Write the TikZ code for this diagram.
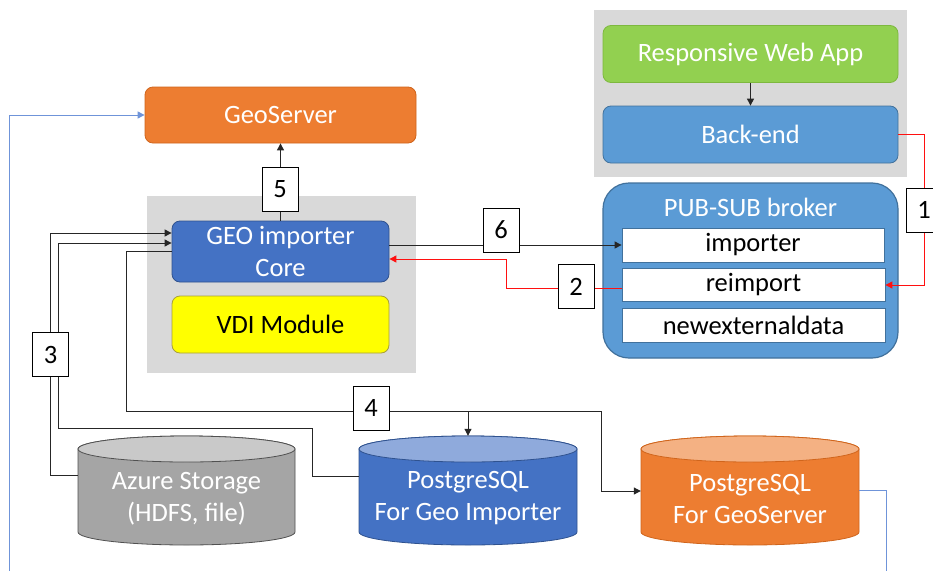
\documentclass[tikz,border=0pt]{standalone}
\usepackage{fontspec}
\setmainfont{Carlito}
\usetikzlibrary{arrows.meta,calc}
\definecolor{cOrange}{HTML}{ED7D31}
\definecolor{cOrangeL}{HTML}{F4B183}
\definecolor{cOrangeD}{HTML}{D0651C}
\definecolor{cBlue}{HTML}{4472C4}
\definecolor{cBlueL}{HTML}{8FAADC}
\definecolor{cBlueD}{HTML}{2F528F}
\definecolor{cSky}{HTML}{5B9BD5}
\definecolor{cSkyD}{HTML}{41719C}
\definecolor{cGreen}{HTML}{92D050}
\definecolor{cGreenD}{HTML}{7DB83E}
\definecolor{cGray}{HTML}{A5A5A5}
\definecolor{cGrayL}{HTML}{C9C9C9}
\definecolor{cGrayD}{HTML}{505050}
\definecolor{cPanel}{HTML}{D9D9D9}
\definecolor{cYellow}{HTML}{FFFF00}
\definecolor{cYellowD}{HTML}{A89F3A}
\definecolor{cLink}{HTML}{6F94D9}
\definecolor{cRed}{HTML}{FF1010}
\tikzset{
  panel/.style={fill=cPanel, draw=none, inner sep=0pt},
  comp/.style={rounded corners=8pt, line width=0.8pt, text=white, inner sep=0pt, align=center},
  topic/.style={fill=white, draw=cSkyD, line width=0.8pt, inner sep=0pt, text=black},
  tag/.style={fill=white, draw=black, line width=0.9pt, minimum width=36pt, minimum height=44pt, inner sep=0pt, text=black},
  link/.style={draw=black!85, line width=1pt},
  arr/.style={link, -{Triangle[length=7pt,width=7pt]}},
  rarr/.style={draw=cRed, line width=1pt, -{Triangle[length=7pt,width=7pt]}},
  barr/.style={draw=cLink, line width=1pt, -{Triangle[length=7pt,width=7pt]}},
  bline/.style={draw=cLink, line width=1pt},
  dbshape/.style={draw=none, inner sep=0pt, minimum width=217pt, minimum height=109pt},
  dbtext/.style={text=white, align=center, inner sep=0pt},
}
% cylinder: L, R, T, B, rx, body colour, top colour, border colour
\newcommand\dbcylinder[8]{%
  \draw[line width=0.8pt, draw=#8, fill=#6]
    (#1,{#3+13}) -- (#1,{#4-13})
    arc[start angle=180, end angle=360, x radius=#5pt, y radius=13pt]
    -- (#2,{#3+13})
    arc[start angle=0, end angle=180, x radius=#5pt, y radius=13pt] -- cycle;
  \draw[line width=0.8pt, draw=#8, fill=#7] ({(#1+#2)/2},{#3+13}) ellipse[x radius=#5pt, y radius=13pt];
}
\begin{document}
\begin{tikzpicture}[x=1pt, y=-1pt, font=\fontsize{26.5pt}{32pt}\selectfont]
\useasboundingbox (0,0) rectangle (933,570);
\fill[white] (0,0) rectangle (933,570);

% panels
\node[panel, minimum width=313pt, minimum height=167pt] (toppanel) at (750.5,93.5) {};
\node[panel, minimum width=269pt, minimum height=177pt] (midpanel) at (281.5,284.5) {};

% top right components
\node[comp, fill=cGreen, draw=cGreenD, minimum width=295pt, minimum height=57pt] (rwa) at (750.5,54) {Responsive Web App};
\node[comp, fill=cSky, draw=cSkyD, minimum width=295pt, minimum height=57pt] (backend) at (750.5,134.5) {Back-end};

% broker
\node[comp, rounded corners=26pt, fill=cSky, draw=cSkyD, line width=1.2pt, minimum width=295pt, minimum height=175pt] (broker) at (750.5,270.5) {};
\node[text=white, inner sep=0pt] (brokertitle) at (750.5,207) {PUB-SUB broker};
\node[topic, minimum width=262pt, minimum height=34pt] (importer) at (753,245) {importer};
\node[topic, minimum width=263pt, minimum height=33pt] (reimport) at (753.5,285) {reimport};
\node[topic, minimum width=263pt, minimum height=34pt] (newext) at (753.5,325) {newexternaldata};

% geoserver and importer
\node[comp, fill=cOrange, draw=cOrangeD, minimum width=271pt, minimum height=56pt] (geoserver) at (280.5,115) {GeoServer};
\node[comp, fill=cBlue, draw=cBlueD, minimum width=217pt, minimum height=61pt] (core) at (280.5,251.5) {GEO importer\\Core};
\node[comp, fill=cYellow, draw=cYellowD, text=black, minimum width=217pt, minimum height=57pt] (vdi) at (280.5,324.5) {VDI Module};

% databases
\dbcylinder{78}{295}{436}{545}{108.5}{cGray}{cGrayL}{cGrayD}
\node[dbshape] (azure) at (186.5,490.5) {};
\node[dbtext] (azuretext) at (186.5,498.5) {Azure Storage\\(HDFS, file)};

\dbcylinder{359}{577}{436}{545}{109}{cBlue}{cBlueL}{cBlueD}
\node[dbshape, minimum width=218pt] (pgi) at (468,490.5) {};
\node[dbtext] (pgitext) at (468,498.5) {PostgreSQL\\For Geo Importer};

\dbcylinder{641}{859}{436}{545}{109}{cOrange}{cOrangeL}{cOrangeD}
\node[dbshape, minimum width=218pt] (pgs) at (750,490.5) {};
\node[dbtext] (pgstext) at (750,498.5) {PostgreSQL\\For GeoServer};

% coordinates for bends
\coordinate (a1) at (50,475);
\coordinate (a2) at (50,233);
\coordinate (b1) at (312,476);
\coordinate (b2) at (312,428);
\coordinate (b3) at (58,428);
\coordinate (b4) at (58,243);
\coordinate (c1) at (126,251.5);
\coordinate (c2) at (126,411);
\coordinate (c3) at (601,411);
\coordinate (c4) at (601,491);
\coordinate (c5) at (468,411);
\coordinate (g1) at (9,575);
\coordinate (g2) at (9,115);
\coordinate (h1) at (886,490);
\coordinate (h2) at (886,575);
\coordinate (r1) at (924,134.5);
\coordinate (s0) at (622,288);
\coordinate (s1) at (506,288);
\coordinate (s2) at (506,259);

% connectors
\draw[arr] (rwa) -- (backend);
\draw[rarr] (backend.east) -- (r1) |- (reimport.east);
\draw[rarr] (reimport.west |- s0) -- (s1) -- (s2) -- (core.east |- s2);
\draw[arr] (core.east |- importer) -- (importer.west);
\draw[arr] (core.north) -- (geoserver.south);
\draw[arr] (azure.west |- a1) -- (a1) -- (a2) -- (core.west |- a2);
\draw[arr] (pgi.west |- b1) -- (b1) -- (b2) -- (b3) -- (b4) -- (core.west |- b4);
\draw[arr] (core.west) -- (c1) -- (c2) -- (c3) -- (c4) -- (pgs.west |- c4);
\draw[arr] (c5) -- (pgi.north);
\draw[barr] (g1) -- (g2) -- (geoserver.west);
\draw[bline] (pgs.east |- h1) -- (h1) -- (h2);

% step tags
\node[tag] (t1) at (924,210) {1};
\node[tag] (t2) at (576,286.5) {2};
\node[tag] (t3) at (50.5,354.5) {3};
\node[tag] (t4) at (371,408) {4};
\node[tag] (t5) at (280,189) {5};
\node[tag] (t6) at (501,230) {6};
\end{tikzpicture}
\end{document}
